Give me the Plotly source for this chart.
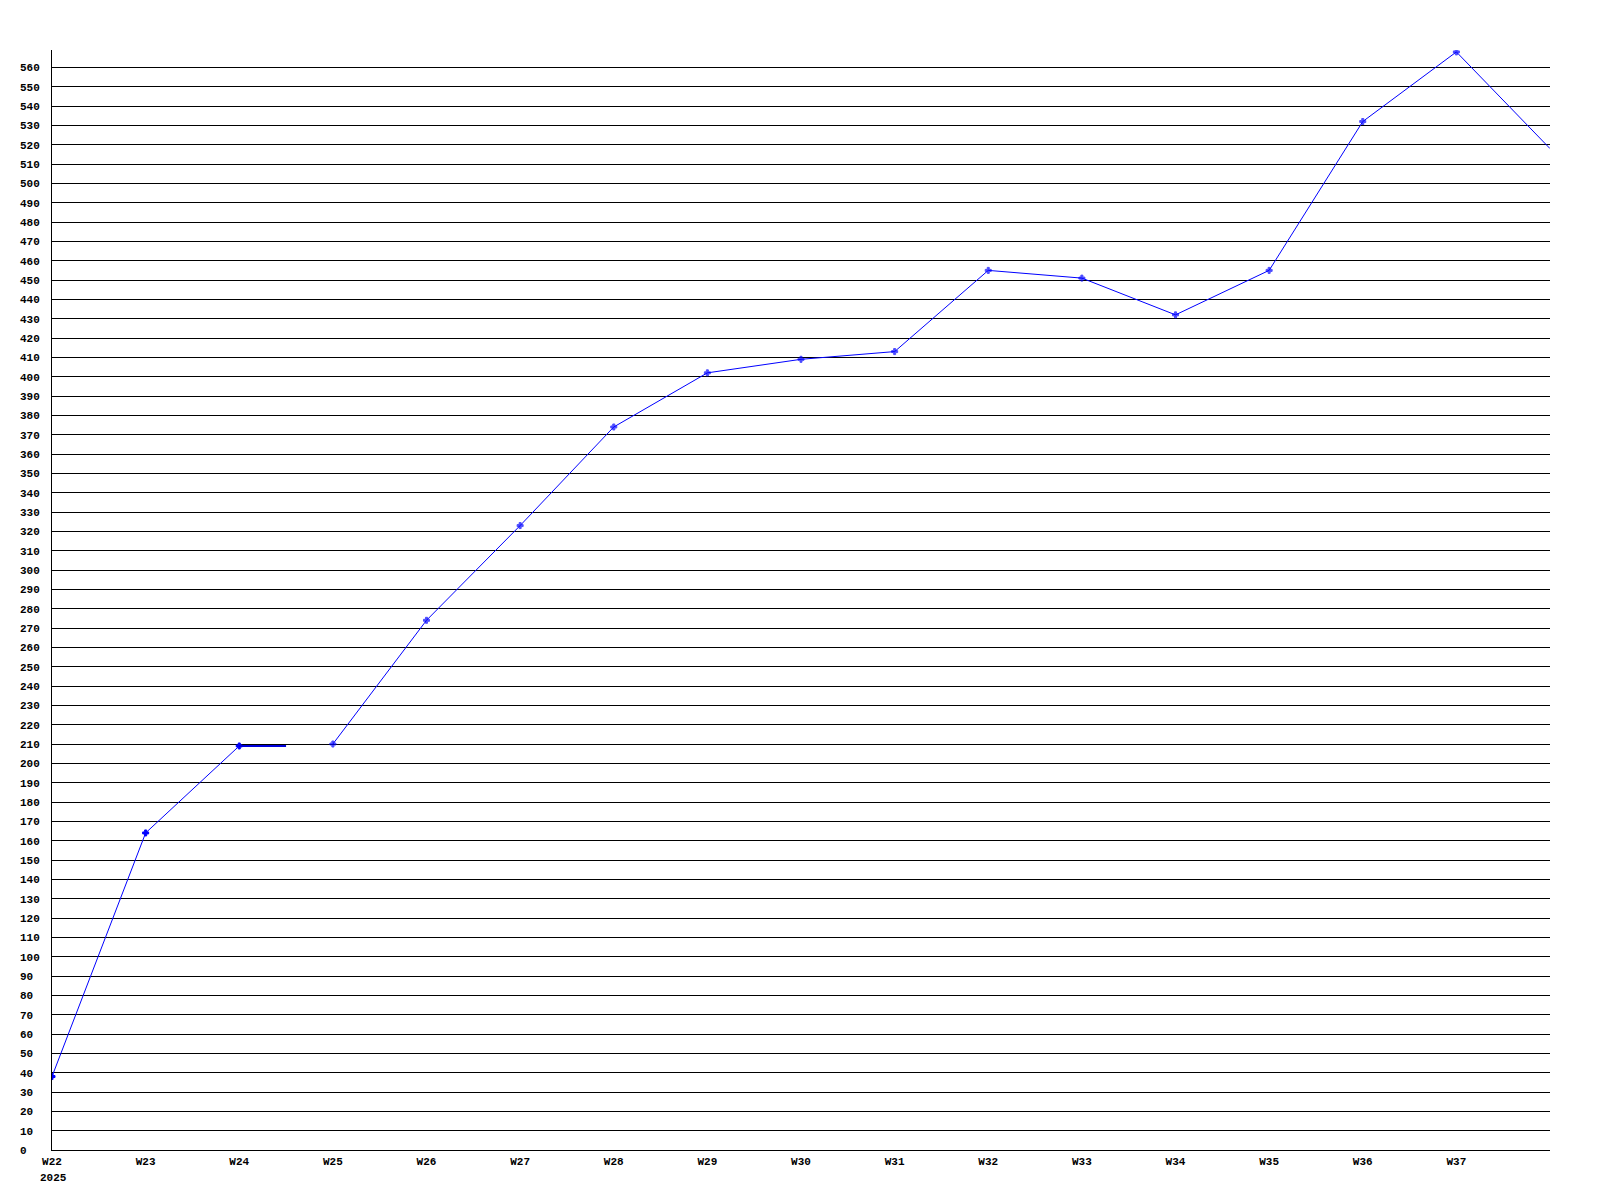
import plotly.graph_objects as go

# weekly values, W22 .. W38 (W38 sits at the right edge of the plot)
semanas = [22, 23, 24, 25, 26, 27, 28, 29, 30, 31, 32, 33, 34, 35, 36, 37, 38]
valores = [38, 164, 209, 210, 274, 323, 374, 402, 409, 413, 455, 451, 432, 455, 532, 568, 518]
rotulos_x = ['W%d' % s for s in semanas[:-1]]
ano = '2025'

fonte = dict(family='Liberation Mono, DejaVu Sans Mono, monospace', size=11,
             color='black', weight='bold')
azul = '#0000ff'
marcador = dict(symbol='cross', size=5, color=azul, line=dict(color=azul, width=1))

fig = go.Figure()

# line breaks between W24 and W25 in the original: a short stub then a gap
i_gap = semanas.index(25)
fig.add_trace(go.Scatter(
    x=semanas[:i_gap], y=valores[:i_gap],
    mode='lines+markers',
    line=dict(color=azul, width=1),
    marker=marcador,
))
fig.add_trace(go.Scatter(
    x=[semanas[i_gap - 1], (semanas[i_gap - 1] + semanas[i_gap]) / 2],
    y=[valores[i_gap - 1], valores[i_gap - 1]],
    mode='lines',
    line=dict(color='#0000dd', width=2),
))
tamanhos = [5] * (len(semanas) - i_gap - 1) + [0]
fig.add_trace(go.Scatter(
    x=semanas[i_gap:], y=valores[i_gap:],
    mode='lines+markers',
    line=dict(color=azul, width=1),
    marker=dict(marcador, size=tamanhos),
))

yticks = list(range(0, 561, 10))
fig.update_yaxes(
    range=[0, 569],
    tickvals=yticks,
    ticktext=[str(v).ljust(3).replace(' ', '\u00a0') for v in yticks],
    tickfont=fonte,
    showgrid=True, gridcolor='black', gridwidth=1,
    showline=True, linecolor='black', linewidth=1,
    zeroline=False, ticks='', ticklabelstandoff=9,
)
fig.update_xaxes(
    range=[22, 38],
    tickvals=semanas[:-1],
    ticktext=rotulos_x,
    tickfont=fonte,
    showgrid=False, zeroline=False,
    showline=True, linecolor='black', linewidth=1,
    ticks='', ticklabelstandoff=1,
)

fig.add_annotation(
    x=semanas[0], y=0, xref='x', yref='y',
    text=ano, showarrow=False, font=fonte,
    xanchor='left', yanchor='top', xshift=-14, yshift=-20,
)

# page body adds 8px, so margins compensate
fig.update_layout(
    width=1600, height=1200,
    margin=dict(l=42, r=58, t=42, b=58),
    plot_bgcolor='white', paper_bgcolor='white',
    showlegend=False,
)

fig.write_html('out.html')
